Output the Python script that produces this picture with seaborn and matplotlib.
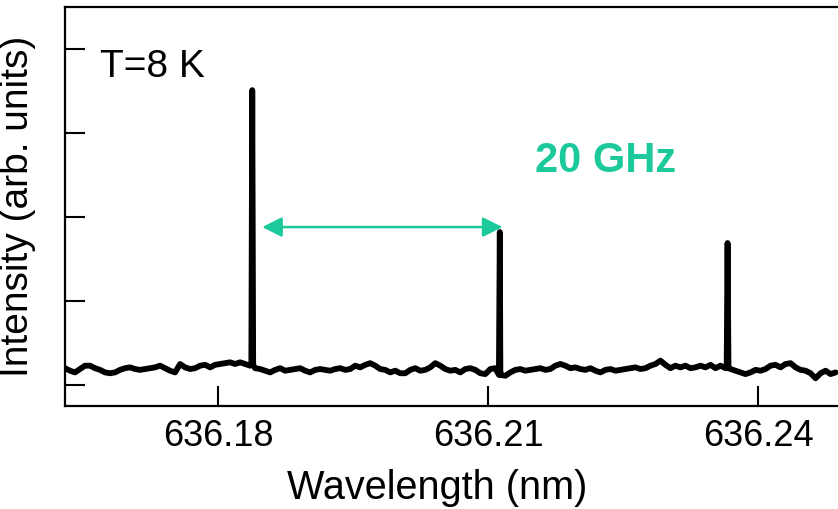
import numpy as np
import pandas as pd
import seaborn as sns
import matplotlib.pyplot as plt

# wavelength sampling of the spectrometer (nm)
WL_START, WL_STOP = 636.1630, 636.2486

# baseline intensity (arb. units), one value per sample
baseline = [
    0.20, 0.17, 0.15, 0.19, 0.23, 0.23, 0.20, 0.18, 0.15, 0.14,
    0.15, 0.18, 0.20, 0.21, 0.19, 0.18, 0.19, 0.20, 0.21, 0.23,
    0.20, 0.17, 0.15, 0.25, 0.21, 0.19, 0.20, 0.23, 0.24, 0.21,
    0.24, 0.25, 0.26, 0.27, 0.25, 0.27, 0.25, 0.23, 0.20, 0.19,
    0.17, 0.15, 0.18, 0.20, 0.17, 0.18, 0.19, 0.20, 0.17, 0.15,
    0.18, 0.19, 0.18, 0.17, 0.19, 0.20, 0.18, 0.19, 0.23, 0.21,
    0.24, 0.26, 0.23, 0.19, 0.18, 0.15, 0.17, 0.14, 0.14, 0.18,
    0.20, 0.17, 0.18, 0.21, 0.26, 0.23, 0.19, 0.17, 0.18, 0.15,
    0.19, 0.20, 0.18, 0.14, 0.13, 0.19, 0.20, 0.18, 0.11, 0.15,
    0.18, 0.19, 0.17, 0.18, 0.19, 0.20, 0.18, 0.19, 0.23, 0.25,
    0.23, 0.20, 0.21, 0.19, 0.18, 0.20, 0.17, 0.15, 0.18, 0.19,
    0.17, 0.18, 0.19, 0.20, 0.21, 0.19, 0.20, 0.23, 0.25, 0.29,
    0.24, 0.20, 0.23, 0.21, 0.23, 0.20, 0.21, 0.23, 0.21, 0.24,
    0.20, 0.23, 0.20, 0.19, 0.17, 0.15, 0.13, 0.15, 0.18, 0.17,
    0.19, 0.23, 0.24, 0.21, 0.25, 0.26, 0.21, 0.18, 0.17, 0.14,
    0.08, 0.14, 0.17, 0.13, 0.15,
]

# the three sharp emission lines: centre, top, and level at the foot
peak_wl = [636.1838, 636.2113, 636.2366]
peak_int = [3.51, 1.82, 1.69]
peak_foot = [0.24, 0.12, 0.20]
FOOT_HALF = 0.00010  # half width of a line foot (nm)

x_ticks = [636.18, 636.21, 636.24]
x_tick_labels = ["636.18", "636.21", "636.24"]
y_ticks = [0, 1, 2, 3, 4]

arrow_span = [636.1849, 636.2116]
arrow_level = 1.88
temp_label = "T=8 K"
split_label = "20 GHz"
GREEN = "#1CC99A"

# build the spectrum table
wl_grid = np.linspace(WL_START, WL_STOP, len(baseline))
pw = np.array(peak_wl)
pf = np.array(peak_foot)
spec = pd.DataFrame({
    "wavelength": np.concatenate([wl_grid, pw - FOOT_HALF, pw, pw + FOOT_HALF]),
    "intensity": np.concatenate([baseline, pf, peak_int, pf]),
})
spec = spec.sort_values("wavelength").reset_index(drop=True)

sns.set_theme(style="ticks", context="notebook")
plt.rcParams["font.family"] = ["Liberation Sans", "DejaVu Sans"]
plt.rcParams["text.color"] = "black"
plt.rcParams["axes.labelcolor"] = "black"

fig = plt.figure(figsize=(8.38, 5.09), dpi=100)
ax = fig.add_axes([65 / 838, (509 - 406) / 509, (850 - 65) / 838, (406 - 7) / 509])

sns.lineplot(data=spec, x="wavelength", y="intensity", ax=ax, color="black",
             linewidth=4.2, estimator=None, sort=False)

ax.set_xlim(636.1630, 636.2502)
ax.set_ylim(-0.25, 4.5)
ax.set_xticks(x_ticks)
ax.set_xticklabels(x_tick_labels, fontsize=26)
ax.set_yticks(y_ticks)
ax.set_yticklabels([])
ax.tick_params(direction="in", length=14.5, width=1.5, pad=9, colors="black")
for side in ["left", "bottom", "top"]:
    ax.spines[side].set_linewidth(1.6)
    ax.spines[side].set_color("black")
ax.spines["right"].set_visible(False)

ax.set_xlabel("Wavelength (nm)", fontsize=28.5)
ax.xaxis.set_label_coords((437 - 65) / 785, -0.158)
ax.set_ylabel("Intensity (arb. units)", fontsize=28, labelpad=12)

ax.text(0.0446, 0.8246, temp_label, transform=ax.transAxes, fontsize=28,
        va="baseline", ha="left")
ax.text(0.599, 0.5865, split_label, transform=ax.transAxes, fontsize=30,
        fontweight="bold", va="baseline", ha="left", color=GREEN)
ax.annotate("", xy=(arrow_span[1], arrow_level), xytext=(arrow_span[0], arrow_level),
            arrowprops=dict(arrowstyle="<|-|>,head_length=0.6,head_width=0.3",
                            color=GREEN, lw=1.8, mutation_scale=20,
                            shrinkA=0, shrinkB=0))

fig.savefig("out.png", dpi=100)
